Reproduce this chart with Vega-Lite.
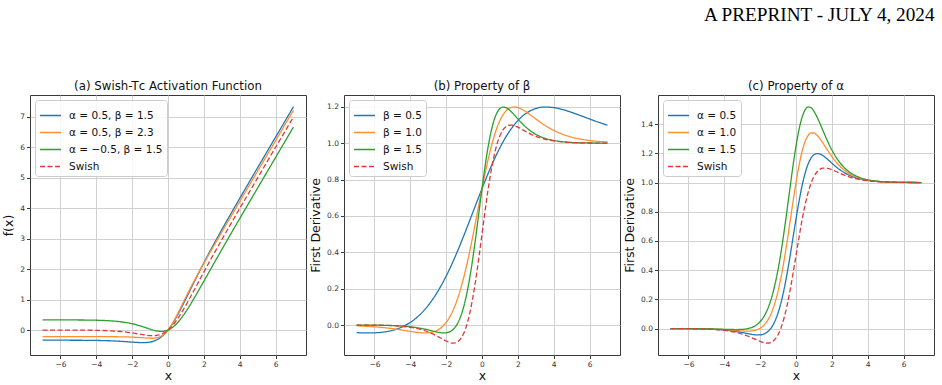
{
  "$schema": "https://vega.github.io/schema/vega-lite/v6.json",
  "background": "white",
  "padding": {"left": 2, "top": 5, "right": 9, "bottom": 2},
  "title": {"text": "A PREPRINT - JULY 4, 2024", "anchor": "end", "font": "Liberation Serif", "fontSize": 19.2, "fontWeight": "normal", "color": "#000000", "offset": 56},
  "bounds": "flush",
  "spacing": 38,
  "datasets": {
    "a": [
      {"s":"α = 0.5, β = 1.5","x":-7,"y":-0.3335},{"s":"α = 0.5, β = 1.5","x":-6.667,"y":-0.3336},{"s":"α = 0.5, β = 1.5","x":-5.333,"y":-0.3349},{"s":"α = 0.5, β = 1.5","x":-4.667,"y":-0.337},{"s":"α = 0.5, β = 1.5","x":-4,"y":-0.3416},{"s":"α = 0.5, β = 1.5","x":-3.333,"y":-0.3512},{"s":"α = 0.5, β = 1.5","x":-3,"y":-0.359},{"s":"α = 0.5, β = 1.5","x":-2.667,"y":-0.3693},{"s":"α = 0.5, β = 1.5","x":-2.333,"y":-0.3822},{"s":"α = 0.5, β = 1.5","x":-2,"y":-0.3966},{"s":"α = 0.5, β = 1.5","x":-1.833,"y":-0.4034},{"s":"α = 0.5, β = 1.5","x":-1.667,"y":-0.4092},{"s":"α = 0.5, β = 1.5","x":-1.5,"y":-0.4128},{"s":"α = 0.5, β = 1.5","x":-1.333,"y":-0.4128},{"s":"α = 0.5, β = 1.5","x":-1.167,"y":-0.4074},{"s":"α = 0.5, β = 1.5","x":-1,"y":-0.3941},{"s":"α = 0.5, β = 1.5","x":-0.833,"y":-0.3705},{"s":"α = 0.5, β = 1.5","x":-0.667,"y":-0.3333},{"s":"α = 0.5, β = 1.5","x":-0.5,"y":-0.2799},{"s":"α = 0.5, β = 1.5","x":-0.333,"y":-0.2075},{"s":"α = 0.5, β = 1.5","x":-0.167,"y":-0.1144},{"s":"α = 0.5, β = 1.5","x":0,"y":0},{"s":"α = 0.5, β = 1.5","x":0.167,"y":0.1351},{"s":"α = 0.5, β = 1.5","x":0.333,"y":0.2891},{"s":"α = 0.5, β = 1.5","x":0.5,"y":0.459},{"s":"α = 0.5, β = 1.5","x":0.667,"y":0.6414},{"s":"α = 0.5, β = 1.5","x":0.833,"y":0.8326},{"s":"α = 0.5, β = 1.5","x":1,"y":1.0293},{"s":"α = 0.5, β = 1.5","x":1.167,"y":1.2286},{"s":"α = 0.5, β = 1.5","x":1.333,"y":1.4283},{"s":"α = 0.5, β = 1.5","x":1.5,"y":1.6267},{"s":"α = 0.5, β = 1.5","x":1.667,"y":1.823},{"s":"α = 0.5, β = 1.5","x":1.833,"y":2.0165},{"s":"α = 0.5, β = 1.5","x":2,"y":2.2069},{"s":"α = 0.5, β = 1.5","x":2.333,"y":2.5787},{"s":"α = 0.5, β = 1.5","x":2.667,"y":2.9401},{"s":"α = 0.5, β = 1.5","x":3,"y":3.2931},{"s":"α = 0.5, β = 1.5","x":3.333,"y":3.6399},{"s":"α = 0.5, β = 1.5","x":4,"y":4.3218},{"s":"α = 0.5, β = 1.5","x":4.667,"y":4.9951},{"s":"α = 0.5, β = 1.5","x":5.333,"y":5.6647},{"s":"α = 0.5, β = 1.5","x":6.667,"y":6.9997},{"s":"α = 0.5, β = 1.5","x":7,"y":7.3331},
      {"s":"α = 0.5, β = 2.3","x":-7,"y":-0.2174},{"s":"α = 0.5, β = 2.3","x":-5.217,"y":-0.2174},{"s":"α = 0.5, β = 2.3","x":-4.348,"y":-0.2176},{"s":"α = 0.5, β = 2.3","x":-3.478,"y":-0.2184},{"s":"α = 0.5, β = 2.3","x":-3.043,"y":-0.2198},{"s":"α = 0.5, β = 2.3","x":-2.609,"y":-0.2228},{"s":"α = 0.5, β = 2.3","x":-2.174,"y":-0.229},{"s":"α = 0.5, β = 2.3","x":-1.957,"y":-0.2341},{"s":"α = 0.5, β = 2.3","x":-1.739,"y":-0.2409},{"s":"α = 0.5, β = 2.3","x":-1.522,"y":-0.2493},{"s":"α = 0.5, β = 2.3","x":-1.304,"y":-0.2586},{"s":"α = 0.5, β = 2.3","x":-1.196,"y":-0.2631},{"s":"α = 0.5, β = 2.3","x":-1.087,"y":-0.2669},{"s":"α = 0.5, β = 2.3","x":-0.978,"y":-0.2692},{"s":"α = 0.5, β = 2.3","x":-0.87,"y":-0.2692},{"s":"α = 0.5, β = 2.3","x":-0.761,"y":-0.2657},{"s":"α = 0.5, β = 2.3","x":-0.652,"y":-0.2571},{"s":"α = 0.5, β = 2.3","x":-0.543,"y":-0.2416},{"s":"α = 0.5, β = 2.3","x":-0.435,"y":-0.2174},{"s":"α = 0.5, β = 2.3","x":-0.326,"y":-0.1825},{"s":"α = 0.5, β = 2.3","x":-0.217,"y":-0.1353},{"s":"α = 0.5, β = 2.3","x":-0.109,"y":-0.0746},{"s":"α = 0.5, β = 2.3","x":0,"y":0},{"s":"α = 0.5, β = 2.3","x":0.109,"y":0.0881},{"s":"α = 0.5, β = 2.3","x":0.217,"y":0.1886},{"s":"α = 0.5, β = 2.3","x":0.326,"y":0.2994},{"s":"α = 0.5, β = 2.3","x":0.435,"y":0.4183},{"s":"α = 0.5, β = 2.3","x":0.543,"y":0.543},{"s":"α = 0.5, β = 2.3","x":0.652,"y":0.6713},{"s":"α = 0.5, β = 2.3","x":0.761,"y":0.8013},{"s":"α = 0.5, β = 2.3","x":0.87,"y":0.9315},{"s":"α = 0.5, β = 2.3","x":0.978,"y":1.0609},{"s":"α = 0.5, β = 2.3","x":1.087,"y":1.1889},{"s":"α = 0.5, β = 2.3","x":1.196,"y":1.3151},{"s":"α = 0.5, β = 2.3","x":1.304,"y":1.4393},{"s":"α = 0.5, β = 2.3","x":1.522,"y":1.6818},{"s":"α = 0.5, β = 2.3","x":1.739,"y":1.9174},{"s":"α = 0.5, β = 2.3","x":1.957,"y":2.1476},{"s":"α = 0.5, β = 2.3","x":2.174,"y":2.3738},{"s":"α = 0.5, β = 2.3","x":2.609,"y":2.8186},{"s":"α = 0.5, β = 2.3","x":3.043,"y":3.2577},{"s":"α = 0.5, β = 2.3","x":3.478,"y":3.6943},{"s":"α = 0.5, β = 2.3","x":4.348,"y":4.565},{"s":"α = 0.5, β = 2.3","x":5.217,"y":5.4348},{"s":"α = 0.5, β = 2.3","x":7,"y":7.2174},
      {"s":"α = −0.5, β = 1.5","x":-7,"y":0.3331},{"s":"α = −0.5, β = 1.5","x":-6.667,"y":0.333},{"s":"α = −0.5, β = 1.5","x":-5.333,"y":0.3313},{"s":"α = −0.5, β = 1.5","x":-4.667,"y":0.3285},{"s":"α = −0.5, β = 1.5","x":-4,"y":0.3218},{"s":"α = −0.5, β = 1.5","x":-3.333,"y":0.3066},{"s":"α = −0.5, β = 1.5","x":-3,"y":0.2931},{"s":"α = −0.5, β = 1.5","x":-2.667,"y":0.2734},{"s":"α = −0.5, β = 1.5","x":-2.333,"y":0.2454},{"s":"α = −0.5, β = 1.5","x":-2,"y":0.2069},{"s":"α = −0.5, β = 1.5","x":-1.833,"y":0.1831},{"s":"α = −0.5, β = 1.5","x":-1.667,"y":0.1563},{"s":"α = −0.5, β = 1.5","x":-1.5,"y":0.1267},{"s":"α = −0.5, β = 1.5","x":-1.333,"y":0.0949},{"s":"α = −0.5, β = 1.5","x":-1.167,"y":0.0619},{"s":"α = −0.5, β = 1.5","x":-1,"y":0.0293},{"s":"α = −0.5, β = 1.5","x":-0.833,"y":-0.0007},{"s":"α = −0.5, β = 1.5","x":-0.667,"y":-0.0253},{"s":"α = −0.5, β = 1.5","x":-0.5,"y":-0.041},{"s":"α = −0.5, β = 1.5","x":-0.333,"y":-0.0442},{"s":"α = −0.5, β = 1.5","x":-0.167,"y":-0.0315},{"s":"α = −0.5, β = 1.5","x":0,"y":0},{"s":"α = −0.5, β = 1.5","x":0.167,"y":0.0522},{"s":"α = −0.5, β = 1.5","x":0.333,"y":0.1258},{"s":"α = −0.5, β = 1.5","x":0.5,"y":0.2201},{"s":"α = −0.5, β = 1.5","x":0.667,"y":0.3333},{"s":"α = −0.5, β = 1.5","x":0.833,"y":0.4629},{"s":"α = −0.5, β = 1.5","x":1,"y":0.6059},{"s":"α = −0.5, β = 1.5","x":1.167,"y":0.7593},{"s":"α = −0.5, β = 1.5","x":1.333,"y":0.9205},{"s":"α = −0.5, β = 1.5","x":1.5,"y":1.0872},{"s":"α = −0.5, β = 1.5","x":1.667,"y":1.2575},{"s":"α = −0.5, β = 1.5","x":1.833,"y":1.4299},{"s":"α = −0.5, β = 1.5","x":2,"y":1.6034},{"s":"α = −0.5, β = 1.5","x":2.333,"y":1.9511},{"s":"α = −0.5, β = 1.5","x":2.667,"y":2.2974},{"s":"α = −0.5, β = 1.5","x":3,"y":2.641},{"s":"α = −0.5, β = 1.5","x":3.333,"y":2.9822},{"s":"α = −0.5, β = 1.5","x":4,"y":3.6584},{"s":"α = −0.5, β = 1.5","x":4.667,"y":4.3297},{"s":"α = −0.5, β = 1.5","x":5.333,"y":4.9984},{"s":"α = −0.5, β = 1.5","x":6.667,"y":6.3331},{"s":"α = −0.5, β = 1.5","x":7,"y":6.6665},
      {"s":"Swish","x":-7,"y":-0.0002},{"s":"Swish","x":-6.667,"y":-0.0003},{"s":"Swish","x":-5.333,"y":-0.0018},{"s":"Swish","x":-4.667,"y":-0.0043},{"s":"Swish","x":-4,"y":-0.0099},{"s":"Swish","x":-3.333,"y":-0.0223},{"s":"Swish","x":-3,"y":-0.033},{"s":"Swish","x":-2.667,"y":-0.048},{"s":"Swish","x":-2.333,"y":-0.0684},{"s":"Swish","x":-2,"y":-0.0949},{"s":"Swish","x":-1.833,"y":-0.1102},{"s":"Swish","x":-1.667,"y":-0.1264},{"s":"Swish","x":-1.5,"y":-0.143},{"s":"Swish","x":-1.333,"y":-0.1589},{"s":"Swish","x":-1.167,"y":-0.1727},{"s":"Swish","x":-1,"y":-0.1824},{"s":"Swish","x":-0.833,"y":-0.1856},{"s":"Swish","x":-0.667,"y":-0.1793},{"s":"Swish","x":-0.5,"y":-0.1604},{"s":"Swish","x":-0.333,"y":-0.1258},{"s":"Swish","x":-0.167,"y":-0.073},{"s":"Swish","x":0,"y":0},{"s":"Swish","x":0.167,"y":0.0937},{"s":"Swish","x":0.333,"y":0.2075},{"s":"Swish","x":0.5,"y":0.3396},{"s":"Swish","x":0.667,"y":0.4874},{"s":"Swish","x":0.833,"y":0.6478},{"s":"Swish","x":1,"y":0.8176},{"s":"Swish","x":1.167,"y":0.9939},{"s":"Swish","x":1.333,"y":1.1744},{"s":"Swish","x":1.5,"y":1.357},{"s":"Swish","x":1.667,"y":1.5402},{"s":"Swish","x":1.833,"y":1.7232},{"s":"Swish","x":2,"y":1.9051},{"s":"Swish","x":2.333,"y":2.2649},{"s":"Swish","x":2.667,"y":2.6187},{"s":"Swish","x":3,"y":2.967},{"s":"Swish","x":3.333,"y":3.311},{"s":"Swish","x":4,"y":3.9901},{"s":"Swish","x":4.667,"y":4.6624},{"s":"Swish","x":5.333,"y":5.3315},{"s":"Swish","x":6.667,"y":6.6664},{"s":"Swish","x":7,"y":6.9998}
    ],
    "b": [
      {"s":"β = 0.5","x":-7,"y":-0.0419},{"s":"β = 0.5","x":-6.5,"y":-0.0435},{"s":"β = 0.5","x":-6,"y":-0.0429},{"s":"β = 0.5","x":-5.5,"y":-0.0387},{"s":"β = 0.5","x":-5,"y":-0.0293},{"s":"β = 0.5","x":-4.5,"y":-0.0124},{"s":"β = 0.5","x":-4,"y":0.0142},{"s":"β = 0.5","x":-3.5,"y":0.0534},{"s":"β = 0.5","x":-3,"y":0.1079},{"s":"β = 0.5","x":-2.5,"y":0.1794},{"s":"β = 0.5","x":-2,"y":0.2689},{"s":"β = 0.5","x":-1.5,"y":0.3753},{"s":"β = 0.5","x":-1,"y":0.495},{"s":"β = 0.5","x":-0.5,"y":0.6224},{"s":"β = 0.5","x":0,"y":0.75},{"s":"β = 0.5","x":0.5,"y":0.8698},{"s":"β = 0.5","x":1,"y":0.975},{"s":"β = 0.5","x":1.5,"y":1.0605},{"s":"β = 0.5","x":2,"y":1.1243},{"s":"β = 0.5","x":2.5,"y":1.1668},{"s":"β = 0.5","x":3,"y":1.1905},{"s":"β = 0.5","x":3.5,"y":1.1988},{"s":"β = 0.5","x":4,"y":1.1958},{"s":"β = 0.5","x":4.5,"y":1.185},{"s":"β = 0.5","x":5,"y":1.1695},{"s":"β = 0.5","x":5.5,"y":1.1517},{"s":"β = 0.5","x":6,"y":1.1333},{"s":"β = 0.5","x":6.5,"y":1.1154},{"s":"β = 0.5","x":7,"y":1.0988},
      {"s":"β = 1.0","x":-7,"y":-0.0046},{"s":"β = 1.0","x":-6,"y":-0.0099},{"s":"β = 1.0","x":-5,"y":-0.02},{"s":"β = 1.0","x":-4.5,"y":-0.027},{"s":"β = 1.0","x":-4,"y":-0.035},{"s":"β = 1.0","x":-3.5,"y":-0.0419},{"s":"β = 1.0","x":-3.25,"y":-0.0435},{"s":"β = 1.0","x":-3,"y":-0.0429},{"s":"β = 1.0","x":-2.75,"y":-0.0387},{"s":"β = 1.0","x":-2.5,"y":-0.0293},{"s":"β = 1.0","x":-2.25,"y":-0.0124},{"s":"β = 1.0","x":-2,"y":0.0142},{"s":"β = 1.0","x":-1.75,"y":0.0534},{"s":"β = 1.0","x":-1.5,"y":0.1079},{"s":"β = 1.0","x":-1.25,"y":0.1794},{"s":"β = 1.0","x":-1,"y":0.2689},{"s":"β = 1.0","x":-0.75,"y":0.3753},{"s":"β = 1.0","x":-0.5,"y":0.495},{"s":"β = 1.0","x":-0.25,"y":0.6224},{"s":"β = 1.0","x":0,"y":0.75},{"s":"β = 1.0","x":0.25,"y":0.8698},{"s":"β = 1.0","x":0.5,"y":0.975},{"s":"β = 1.0","x":0.75,"y":1.0605},{"s":"β = 1.0","x":1,"y":1.1243},{"s":"β = 1.0","x":1.25,"y":1.1668},{"s":"β = 1.0","x":1.5,"y":1.1905},{"s":"β = 1.0","x":1.75,"y":1.1988},{"s":"β = 1.0","x":2,"y":1.1958},{"s":"β = 1.0","x":2.25,"y":1.185},{"s":"β = 1.0","x":2.5,"y":1.1695},{"s":"β = 1.0","x":2.75,"y":1.1517},{"s":"β = 1.0","x":3,"y":1.1333},{"s":"β = 1.0","x":3.25,"y":1.1154},{"s":"β = 1.0","x":3.5,"y":1.0988},{"s":"β = 1.0","x":4,"y":1.0704},{"s":"β = 1.0","x":4.5,"y":1.0488},{"s":"β = 1.0","x":5,"y":1.0333},{"s":"β = 1.0","x":6,"y":1.0149},{"s":"β = 1.0","x":7,"y":1.0064},
      {"s":"β = 1.5","x":-7,"y":-0.0002},{"s":"β = 1.5","x":-6.667,"y":-0.0003},{"s":"β = 1.5","x":-5.333,"y":-0.002},{"s":"β = 1.5","x":-4.667,"y":-0.0046},{"s":"β = 1.5","x":-4,"y":-0.0099},{"s":"β = 1.5","x":-3.333,"y":-0.02},{"s":"β = 1.5","x":-3,"y":-0.027},{"s":"β = 1.5","x":-2.667,"y":-0.035},{"s":"β = 1.5","x":-2.333,"y":-0.0419},{"s":"β = 1.5","x":-2.167,"y":-0.0435},{"s":"β = 1.5","x":-2,"y":-0.0429},{"s":"β = 1.5","x":-1.833,"y":-0.0387},{"s":"β = 1.5","x":-1.667,"y":-0.0293},{"s":"β = 1.5","x":-1.5,"y":-0.0124},{"s":"β = 1.5","x":-1.333,"y":0.0142},{"s":"β = 1.5","x":-1.167,"y":0.0534},{"s":"β = 1.5","x":-1,"y":0.1079},{"s":"β = 1.5","x":-0.833,"y":0.1794},{"s":"β = 1.5","x":-0.667,"y":0.2689},{"s":"β = 1.5","x":-0.5,"y":0.3753},{"s":"β = 1.5","x":-0.333,"y":0.495},{"s":"β = 1.5","x":-0.167,"y":0.6224},{"s":"β = 1.5","x":0,"y":0.75},{"s":"β = 1.5","x":0.167,"y":0.8698},{"s":"β = 1.5","x":0.333,"y":0.975},{"s":"β = 1.5","x":0.5,"y":1.0605},{"s":"β = 1.5","x":0.667,"y":1.1243},{"s":"β = 1.5","x":0.833,"y":1.1668},{"s":"β = 1.5","x":1,"y":1.1905},{"s":"β = 1.5","x":1.167,"y":1.1988},{"s":"β = 1.5","x":1.333,"y":1.1958},{"s":"β = 1.5","x":1.5,"y":1.185},{"s":"β = 1.5","x":1.667,"y":1.1695},{"s":"β = 1.5","x":1.833,"y":1.1517},{"s":"β = 1.5","x":2,"y":1.1333},{"s":"β = 1.5","x":2.167,"y":1.1154},{"s":"β = 1.5","x":2.333,"y":1.0988},{"s":"β = 1.5","x":2.667,"y":1.0704},{"s":"β = 1.5","x":3,"y":1.0488},{"s":"β = 1.5","x":3.333,"y":1.0333},{"s":"β = 1.5","x":4,"y":1.0149},{"s":"β = 1.5","x":4.667,"y":1.0064},{"s":"β = 1.5","x":5.333,"y":1.0026},{"s":"β = 1.5","x":6.667,"y":1.0005},{"s":"β = 1.5","x":7,"y":1.0003},
      {"s":"Swish","x":-7,"y":-0.0003},{"s":"Swish","x":-6.667,"y":-0.0004},{"s":"Swish","x":-5.333,"y":-0.0023},{"s":"Swish","x":-4.667,"y":-0.0055},{"s":"Swish","x":-4,"y":-0.0124},{"s":"Swish","x":-3.333,"y":-0.0266},{"s":"Swish","x":-3,"y":-0.0379},{"s":"Swish","x":-2.667,"y":-0.0527},{"s":"Swish","x":-2.333,"y":-0.0703},{"s":"Swish","x":-2.167,"y":-0.0795},{"s":"Swish","x":-2,"y":-0.0881},{"s":"Swish","x":-1.833,"y":-0.0952},{"s":"Swish","x":-1.667,"y":-0.0994},{"s":"Swish","x":-1.5,"y":-0.0987},{"s":"Swish","x":-1.333,"y":-0.0908},{"s":"Swish","x":-1.167,"y":-0.0727},{"s":"Swish","x":-1,"y":-0.0413},{"s":"Swish","x":-0.833,"y":0.0063},{"s":"Swish","x":-0.667,"y":0.0723},{"s":"Swish","x":-0.5,"y":0.1574},{"s":"Swish","x":-0.333,"y":0.26},{"s":"Swish","x":-0.167,"y":0.3763},{"s":"Swish","x":0,"y":0.5},{"s":"Swish","x":0.167,"y":0.6237},{"s":"Swish","x":0.333,"y":0.74},{"s":"Swish","x":0.5,"y":0.8426},{"s":"Swish","x":0.667,"y":0.9277},{"s":"Swish","x":0.833,"y":0.9937},{"s":"Swish","x":1,"y":1.0413},{"s":"Swish","x":1.167,"y":1.0727},{"s":"Swish","x":1.333,"y":1.0908},{"s":"Swish","x":1.5,"y":1.0987},{"s":"Swish","x":1.667,"y":1.0994},{"s":"Swish","x":1.833,"y":1.0952},{"s":"Swish","x":2,"y":1.0881},{"s":"Swish","x":2.167,"y":1.0795},{"s":"Swish","x":2.333,"y":1.0703},{"s":"Swish","x":2.667,"y":1.0527},{"s":"Swish","x":3,"y":1.0379},{"s":"Swish","x":3.333,"y":1.0266},{"s":"Swish","x":4,"y":1.0124},{"s":"Swish","x":4.667,"y":1.0055},{"s":"Swish","x":5.333,"y":1.0023},{"s":"Swish","x":6.667,"y":1.0004},{"s":"Swish","x":7,"y":1.0003}
    ],
    "c": [
      {"s":"α = 0.5","x":-7,"y":-0.0002},{"s":"α = 0.5","x":-6.667,"y":-0.0003},{"s":"α = 0.5","x":-5.333,"y":-0.002},{"s":"α = 0.5","x":-4.667,"y":-0.0046},{"s":"α = 0.5","x":-4,"y":-0.0099},{"s":"α = 0.5","x":-3.333,"y":-0.02},{"s":"α = 0.5","x":-3,"y":-0.027},{"s":"α = 0.5","x":-2.667,"y":-0.035},{"s":"α = 0.5","x":-2.333,"y":-0.0419},{"s":"α = 0.5","x":-2.167,"y":-0.0435},{"s":"α = 0.5","x":-2,"y":-0.0429},{"s":"α = 0.5","x":-1.833,"y":-0.0387},{"s":"α = 0.5","x":-1.667,"y":-0.0293},{"s":"α = 0.5","x":-1.5,"y":-0.0124},{"s":"α = 0.5","x":-1.333,"y":0.0142},{"s":"α = 0.5","x":-1.167,"y":0.0534},{"s":"α = 0.5","x":-1,"y":0.1079},{"s":"α = 0.5","x":-0.833,"y":0.1794},{"s":"α = 0.5","x":-0.667,"y":0.2689},{"s":"α = 0.5","x":-0.5,"y":0.3753},{"s":"α = 0.5","x":-0.333,"y":0.495},{"s":"α = 0.5","x":-0.167,"y":0.6224},{"s":"α = 0.5","x":0,"y":0.75},{"s":"α = 0.5","x":0.167,"y":0.8698},{"s":"α = 0.5","x":0.333,"y":0.975},{"s":"α = 0.5","x":0.5,"y":1.0605},{"s":"α = 0.5","x":0.667,"y":1.1243},{"s":"α = 0.5","x":0.833,"y":1.1668},{"s":"α = 0.5","x":1,"y":1.1905},{"s":"α = 0.5","x":1.167,"y":1.1988},{"s":"α = 0.5","x":1.333,"y":1.1958},{"s":"α = 0.5","x":1.5,"y":1.185},{"s":"α = 0.5","x":1.667,"y":1.1695},{"s":"α = 0.5","x":1.833,"y":1.1517},{"s":"α = 0.5","x":2,"y":1.1333},{"s":"α = 0.5","x":2.167,"y":1.1154},{"s":"α = 0.5","x":2.333,"y":1.0988},{"s":"α = 0.5","x":2.667,"y":1.0704},{"s":"α = 0.5","x":3,"y":1.0488},{"s":"α = 0.5","x":3.333,"y":1.0333},{"s":"α = 0.5","x":4,"y":1.0149},{"s":"α = 0.5","x":4.667,"y":1.0064},{"s":"α = 0.5","x":5.333,"y":1.0026},{"s":"α = 0.5","x":6.667,"y":1.0005},{"s":"α = 0.5","x":7,"y":1.0003},
      {"s":"α = 1.0","x":-7,"y":-0.0002},{"s":"α = 1.0","x":-6.667,"y":-0.0003},{"s":"α = 1.0","x":-5.333,"y":-0.0016},{"s":"α = 1.0","x":-4.667,"y":-0.0037},{"s":"α = 1.0","x":-4,"y":-0.0075},{"s":"α = 1.0","x":-3.333,"y":-0.0133},{"s":"α = 1.0","x":-3,"y":-0.0162},{"s":"α = 1.0","x":-2.667,"y":-0.0174},{"s":"α = 1.0","x":-2.333,"y":-0.0134},{"s":"α = 1.0","x":-2.167,"y":-0.0076},{"s":"α = 1.0","x":-2,"y":0.0023},{"s":"α = 1.0","x":-1.833,"y":0.0178},{"s":"α = 1.0","x":-1.667,"y":0.0408},{"s":"α = 1.0","x":-1.5,"y":0.0738},{"s":"α = 1.0","x":-1.333,"y":0.1192},{"s":"α = 1.0","x":-1.167,"y":0.1796},{"s":"α = 1.0","x":-1,"y":0.257},{"s":"α = 1.0","x":-0.833,"y":0.3525},{"s":"α = 1.0","x":-0.667,"y":0.4655},{"s":"α = 1.0","x":-0.5,"y":0.5932},{"s":"α = 1.0","x":-0.333,"y":0.73},{"s":"α = 1.0","x":-0.167,"y":0.8686},{"s":"α = 1.0","x":0,"y":1.0},{"s":"α = 1.0","x":0.167,"y":1.116},{"s":"α = 1.0","x":0.333,"y":1.21},{"s":"α = 1.0","x":0.5,"y":1.2784},{"s":"α = 1.0","x":0.667,"y":1.3209},{"s":"α = 1.0","x":0.833,"y":1.3399},{"s":"α = 1.0","x":1,"y":1.3396},{"s":"α = 1.0","x":1.167,"y":1.325},{"s":"α = 1.0","x":1.333,"y":1.3008},{"s":"α = 1.0","x":1.5,"y":1.2712},{"s":"α = 1.0","x":1.667,"y":1.2396},{"s":"α = 1.0","x":1.833,"y":1.2082},{"s":"α = 1.0","x":2,"y":1.1785},{"s":"α = 1.0","x":2.167,"y":1.1513},{"s":"α = 1.0","x":2.333,"y":1.1272},{"s":"α = 1.0","x":2.667,"y":1.088},{"s":"α = 1.0","x":3,"y":1.0596},{"s":"α = 1.0","x":3.333,"y":1.0399},{"s":"α = 1.0","x":4,"y":1.0173},{"s":"α = 1.0","x":4.667,"y":1.0073},{"s":"α = 1.0","x":5.333,"y":1.003},{"s":"α = 1.0","x":6.667,"y":1.0005},{"s":"α = 1.0","x":7,"y":1.0004},
      {"s":"α = 1.5","x":-7,"y":-0.0002},{"s":"α = 1.5","x":-6.667,"y":-0.0003},{"s":"α = 1.5","x":-5.333,"y":-0.0013},{"s":"α = 1.5","x":-4.667,"y":-0.0028},{"s":"α = 1.5","x":-4,"y":-0.005},{"s":"α = 1.5","x":-3.333,"y":-0.0066},{"s":"α = 1.5","x":-3,"y":-0.0053},{"s":"α = 1.5","x":-2.667,"y":0.0003},{"s":"α = 1.5","x":-2.333,"y":0.0151},{"s":"α = 1.5","x":-2.167,"y":0.0283},{"s":"α = 1.5","x":-2,"y":0.0474},{"s":"α = 1.5","x":-1.833,"y":0.0742},{"s":"α = 1.5","x":-1.667,"y":0.1109},{"s":"α = 1.5","x":-1.5,"y":0.1601},{"s":"α = 1.5","x":-1.333,"y":0.2242},{"s":"α = 1.5","x":-1.167,"y":0.3057},{"s":"α = 1.5","x":-1,"y":0.4062},{"s":"α = 1.5","x":-0.833,"y":0.5256},{"s":"α = 1.5","x":-0.667,"y":0.6621},{"s":"α = 1.5","x":-0.5,"y":0.8111},{"s":"α = 1.5","x":-0.333,"y":0.965},{"s":"α = 1.5","x":-0.167,"y":1.1147},{"s":"α = 1.5","x":0,"y":1.25},{"s":"α = 1.5","x":0.167,"y":1.3621},{"s":"α = 1.5","x":0.333,"y":1.445},{"s":"α = 1.5","x":0.5,"y":1.4963},{"s":"α = 1.5","x":0.667,"y":1.5175},{"s":"α = 1.5","x":0.833,"y":1.513},{"s":"α = 1.5","x":1,"y":1.4888},{"s":"α = 1.5","x":1.167,"y":1.4511},{"s":"α = 1.5","x":1.333,"y":1.4058},{"s":"α = 1.5","x":1.5,"y":1.3575},{"s":"α = 1.5","x":1.667,"y":1.3097},{"s":"α = 1.5","x":1.833,"y":1.2646},{"s":"α = 1.5","x":2,"y":1.2236},{"s":"α = 1.5","x":2.167,"y":1.1872},{"s":"α = 1.5","x":2.333,"y":1.1557},{"s":"α = 1.5","x":2.667,"y":1.1057},{"s":"α = 1.5","x":3,"y":1.0705},{"s":"α = 1.5","x":3.333,"y":1.0466},{"s":"α = 1.5","x":4,"y":1.0198},{"s":"α = 1.5","x":4.667,"y":1.0082},{"s":"α = 1.5","x":5.333,"y":1.0033},{"s":"α = 1.5","x":6.667,"y":1.0006},{"s":"α = 1.5","x":7,"y":1.0004},
      {"s":"Swish","x":-7,"y":-0.0003},{"s":"Swish","x":-6.667,"y":-0.0004},{"s":"Swish","x":-5.333,"y":-0.0023},{"s":"Swish","x":-4.667,"y":-0.0055},{"s":"Swish","x":-4,"y":-0.0124},{"s":"Swish","x":-3.333,"y":-0.0266},{"s":"Swish","x":-3,"y":-0.0379},{"s":"Swish","x":-2.667,"y":-0.0527},{"s":"Swish","x":-2.333,"y":-0.0703},{"s":"Swish","x":-2.167,"y":-0.0795},{"s":"Swish","x":-2,"y":-0.0881},{"s":"Swish","x":-1.833,"y":-0.0952},{"s":"Swish","x":-1.667,"y":-0.0994},{"s":"Swish","x":-1.5,"y":-0.0987},{"s":"Swish","x":-1.333,"y":-0.0908},{"s":"Swish","x":-1.167,"y":-0.0727},{"s":"Swish","x":-1,"y":-0.0413},{"s":"Swish","x":-0.833,"y":0.0063},{"s":"Swish","x":-0.667,"y":0.0723},{"s":"Swish","x":-0.5,"y":0.1574},{"s":"Swish","x":-0.333,"y":0.26},{"s":"Swish","x":-0.167,"y":0.3763},{"s":"Swish","x":0,"y":0.5},{"s":"Swish","x":0.167,"y":0.6237},{"s":"Swish","x":0.333,"y":0.74},{"s":"Swish","x":0.5,"y":0.8426},{"s":"Swish","x":0.667,"y":0.9277},{"s":"Swish","x":0.833,"y":0.9937},{"s":"Swish","x":1,"y":1.0413},{"s":"Swish","x":1.167,"y":1.0727},{"s":"Swish","x":1.333,"y":1.0908},{"s":"Swish","x":1.5,"y":1.0987},{"s":"Swish","x":1.667,"y":1.0994},{"s":"Swish","x":1.833,"y":1.0952},{"s":"Swish","x":2,"y":1.0881},{"s":"Swish","x":2.167,"y":1.0795},{"s":"Swish","x":2.333,"y":1.0703},{"s":"Swish","x":2.667,"y":1.0527},{"s":"Swish","x":3,"y":1.0379},{"s":"Swish","x":3.333,"y":1.0266},{"s":"Swish","x":4,"y":1.0124},{"s":"Swish","x":4.667,"y":1.0055},{"s":"Swish","x":5.333,"y":1.0023},{"s":"Swish","x":6.667,"y":1.0004},{"s":"Swish","x":7,"y":1.0003}
    ]
  },
  "hconcat": [
    {
      "width": 276, "height": 260,
      "title": "(a) Swish-Tᴄ Activation Function",
      "data": {"name": "a"},
      "mark": {"type": "line", "interpolate": "monotone", "strokeWidth": 1.3},
      "encoding": {
        "x": {"field": "x", "type": "quantitative", "title": "x", "scale": {"domain": [-7.7, 7.7], "nice": false, "zero": false}, "axis": {"values": [-6, -4, -2, 0, 2, 4, 6]}},
        "y": {"field": "y", "type": "quantitative", "title": "f(x)", "scale": {"domain": [-0.82, 7.72], "nice": false, "zero": false}, "axis": {"values": [0, 1, 2, 3, 4, 5, 6, 7]}},
        "color": {"field": "s", "type": "nominal", "title": null, "scale": {"domain": ["α = 0.5, β = 1.5", "α = 0.5, β = 2.3", "α = −0.5, β = 1.5", "Swish"], "range": ["#1f77b4", "#ff8f30", "#2ca02c", "#e0393b"]}},
        "strokeDash": {"field": "s", "type": "nominal", "title": null, "scale": {"domain": ["α = 0.5, β = 1.5", "α = 0.5, β = 2.3", "α = −0.5, β = 1.5", "Swish"], "range": [[1, 0], [1, 0], [1, 0], [5, 2.5]]}}
      }
    },
    {
      "width": 276, "height": 260,
      "title": "(b) Property of β",
      "data": {"name": "b"},
      "mark": {"type": "line", "interpolate": "monotone", "strokeWidth": 1.3},
      "encoding": {
        "x": {"field": "x", "type": "quantitative", "title": "x", "scale": {"domain": [-7.7, 7.7], "nice": false, "zero": false}, "axis": {"values": [-6, -4, -2, 0, 2, 4, 6]}},
        "y": {"field": "y", "type": "quantitative", "title": "First Derivative", "scale": {"domain": [-0.165, 1.265], "nice": false, "zero": false}, "axis": {"values": [0, 0.2, 0.4, 0.6, 0.8, 1.0, 1.2], "format": ".1f"}},
        "color": {"field": "s", "type": "nominal", "title": null, "scale": {"domain": ["β = 0.5", "β = 1.0", "β = 1.5", "Swish"], "range": ["#1f77b4", "#ff8f30", "#2ca02c", "#e0393b"]}},
        "strokeDash": {"field": "s", "type": "nominal", "title": null, "scale": {"domain": ["β = 0.5", "β = 1.0", "β = 1.5", "Swish"], "range": [[1, 0], [1, 0], [1, 0], [5, 2.5]]}}
      }
    },
    {
      "width": 276, "height": 260,
      "title": "(c) Property of α",
      "data": {"name": "c"},
      "mark": {"type": "line", "interpolate": "monotone", "strokeWidth": 1.3},
      "encoding": {
        "x": {"field": "x", "type": "quantitative", "title": "x", "scale": {"domain": [-7.7, 7.7], "nice": false, "zero": false}, "axis": {"values": [-6, -4, -2, 0, 2, 4, 6]}},
        "y": {"field": "y", "type": "quantitative", "title": "First Derivative", "scale": {"domain": [-0.181, 1.6], "nice": false, "zero": false}, "axis": {"values": [0, 0.2, 0.4, 0.6, 0.8, 1.0, 1.2, 1.4], "format": ".1f"}},
        "color": {"field": "s", "type": "nominal", "title": null, "scale": {"domain": ["α = 0.5", "α = 1.0", "α = 1.5", "Swish"], "range": ["#1f77b4", "#ff8f30", "#2ca02c", "#e0393b"]}},
        "strokeDash": {"field": "s", "type": "nominal", "title": null, "scale": {"domain": ["α = 0.5", "α = 1.0", "α = 1.5", "Swish"], "range": [[1, 0], [1, 0], [1, 0], [5, 2.5]]}}
      }
    }
  ],
  "resolve": {"scale": {"color": "independent", "strokeDash": "independent"}, "legend": {"color": "independent", "strokeDash": "independent"}},
  "config": {
    "view": {"stroke": "#3a3a3a", "strokeWidth": 1},
    "axis": {"grid": true, "gridColor": "#cccccc", "gridWidth": 0.9, "domain": false, "tickColor": "#3a3a3a", "tickSize": 3.5, "labelFont": "DejaVu Sans", "labelFontSize": 7.5, "labelColor": "#333333", "labelPadding": 2, "titleFont": "DejaVu Sans", "titleFontSize": 12.5, "titleFontWeight": "normal", "titleColor": "#111111"},
    "axisX": {"titlePadding": 2, "labelPadding": 1.5},
    "axisY": {"titlePadding": 4},
    "title": {"font": "DejaVu Sans", "fontSize": 11.8, "fontWeight": "normal", "color": "#111111", "offset": 2},
    "legend": {"orient": "top-left", "offset": 5, "labelFont": "DejaVu Sans", "labelFontSize": 10.5, "labelColor": "#111111", "symbolType": "stroke", "symbolSize": 441, "symbolStrokeWidth": 1.5, "fillColor": "rgba(255,255,255,0.85)", "strokeColor": "#cccccc", "padding": 4, "cornerRadius": 3, "rowPadding": 0, "labelOffset": 7}
  }
}
